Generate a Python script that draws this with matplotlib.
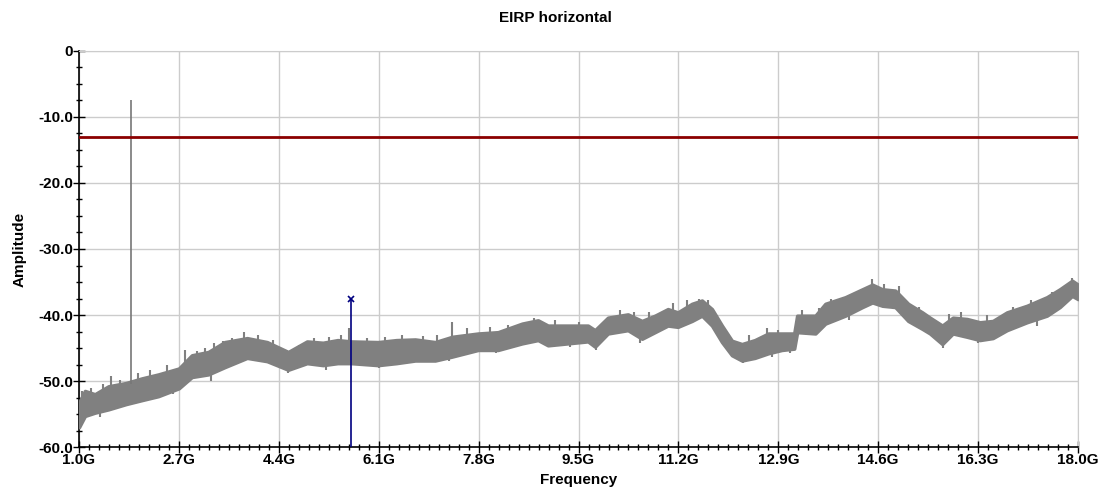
import numpy as np
import matplotlib
matplotlib.use("Agg")
import matplotlib.pyplot as plt
from matplotlib.ticker import FixedLocator, FuncFormatter, MultipleLocator

plt.rcParams['font.family'] = ['Liberation Sans', 'DejaVu Sans']

# trace envelope (GHz, dB)
freq = [1.0, 1.1, 1.27, 1.5, 1.8, 2.07, 2.35, 2.7, 2.92, 3.2, 3.48, 3.86, 4.2, 4.56,
        4.88, 5.15, 5.4, 5.63, 6.09, 6.4, 6.72, 7.06, 7.35, 7.79, 8.13, 8.54, 8.81,
        8.98, 9.32, 9.66, 9.78, 10.0, 10.34, 10.58, 10.8, 11.02, 11.19, 11.43, 11.6,
        11.77, 11.94, 12.11, 12.28, 12.5, 12.73, 12.96, 13.17, 13.22, 13.53, 13.7,
        14.04, 14.33, 14.5, 14.67, 14.89, 15.11, 15.35, 15.48, 15.69, 15.87, 16.11,
        16.33, 16.55, 16.79, 17.13, 17.47, 17.69, 17.9, 18.0]
lower = [-57.0, -55.3, -54.8, -54.3, -53.5, -52.9, -52.3, -51.1, -49.4, -49.0, -47.9,
         -46.5, -47.0, -48.3, -47.3, -47.6, -47.3, -47.3, -47.6, -47.3, -46.9, -46.9,
         -46.3, -45.3, -45.3, -44.3, -43.8, -44.6, -44.3, -44.0, -44.8, -42.8, -42.3,
         -43.6, -42.6, -41.6, -41.8, -40.9, -40.1, -41.6, -44.1, -46.1, -46.9, -46.5,
         -45.8, -45.3, -45.1, -42.6, -42.8, -41.3, -40.1, -38.8, -38.1, -38.6, -38.8,
         -40.9, -42.1, -42.8, -44.4, -42.8, -43.3, -43.8, -43.5, -42.3, -41.1, -40.1,
         -38.8, -37.1, -37.6]
upper = [-53.3, -51.5, -52.0, -50.8, -50.3, -49.6, -49.0, -48.1, -46.1, -45.6, -44.1,
         -43.5, -44.1, -45.6, -44.0, -44.2, -43.8, -44.0, -44.1, -43.8, -43.7, -44.1,
         -43.3, -42.8, -42.6, -41.3, -40.8, -41.6, -41.6, -41.6, -42.3, -40.4, -39.9,
         -40.9, -40.1, -39.1, -39.6, -38.3, -37.8, -39.1, -41.6, -43.9, -44.4, -43.8,
         -42.8, -42.8, -42.8, -40.1, -40.1, -38.3, -37.3, -36.1, -35.4, -36.1, -36.3,
         -38.3, -39.6, -40.4, -41.6, -40.4, -40.6, -41.1, -40.9, -39.6, -38.6, -37.3,
         -36.1, -34.8, -35.4]

# noise spikes poking out of the band (GHz, tip dB)
spike_up_f = [1.05, 1.2, 1.4, 1.55, 1.7, 2.0, 2.2, 2.5, 2.8, 3.0, 3.15, 3.3, 3.45, 3.6,
              3.8, 4.05, 4.3, 4.75, 5.0, 5.25, 5.45, 5.6, 5.9, 6.2, 6.5, 6.85, 7.1, 7.35,
              7.6, 8.0, 8.3, 8.75, 9.1, 9.5, 9.9, 10.2, 10.45, 10.7, 11.1, 11.35, 11.55,
              11.7, 12.4, 12.7, 12.9, 13.3, 13.6, 13.8, 14.2, 14.5, 14.7, 14.95, 15.3,
              15.8, 16.0, 16.45, 16.9, 17.2, 17.55, 17.9]
spike_up_top = [-51.5, -51.0, -50.5, -49.3, -49.8, -48.8, -48.3, -47.5, -45.3, -45.5,
                -45.0, -44.2, -44.0, -43.5, -42.5, -43.0, -43.8, -44.6, -43.5, -43.3,
                -43.0, -42.0, -43.5, -43.3, -43.0, -43.2, -43.0, -41.0, -42.0, -41.8,
                -41.5, -40.4, -40.8, -41.0, -41.5, -39.3, -39.5, -39.5, -38.2, -37.8,
                -37.5, -37.8, -43.0, -42.0, -42.2, -39.3, -39.0, -37.6, -36.6, -34.6,
                -35.3, -35.6, -38.8, -39.8, -39.6, -40.0, -38.8, -37.8, -36.5, -34.4]
spike_dn_f = [1.35, 2.6, 3.25, 4.55, 5.2, 6.1, 7.3, 8.1, 9.35, 9.8, 10.55, 12.3, 12.8,
              13.1, 14.1, 15.7, 16.3, 17.3]
spike_dn_bot = [-55.5, -52.0, -50.0, -48.8, -48.3, -48.0, -47.0, -45.8, -44.8, -45.3,
                -44.2, -47.3, -46.3, -45.7, -40.7, -45.0, -44.3, -41.7]

# signal peak, limit line and marker
peak_f, peak_top, peak_base = 1.88, -7.4, -50.5
limit = -13.0
marker_f, marker_val = 5.634, -37.6

x_ticks = [1.0, 2.7, 4.4, 6.1, 7.8, 9.5, 11.2, 12.9, 14.6, 16.3, 18.0]

fig = plt.figure(figsize=(11.1, 4.98), dpi=100)
ax = fig.add_axes([0.0712, 0.1024, 0.9, 0.7952])

band_lo = np.interp(spike_up_f, freq, lower)
band_hi = np.interp(spike_dn_f, freq, upper)
ax.fill_between(freq, lower, upper, color='#808080', lw=2.5, edgecolor='#808080',
                joinstyle='round', zorder=3)
ax.vlines(spike_up_f, band_lo, spike_up_top, color='#808080', lw=1.5, zorder=3)
ax.vlines(spike_dn_f, spike_dn_bot, band_hi, color='#808080', lw=1.5, zorder=3)
ax.vlines(peak_f, peak_base, peak_top, color='#777777', lw=1.2, zorder=3)
ax.axhline(limit, color='#8b0000', lw=2, zorder=4)
ax.vlines(marker_f, -60, marker_val, color='#000080', lw=1.2, zorder=5)
ax.plot([marker_f], [marker_val], marker='x', color='#000080', ms=5, mew=1.2, zorder=6)

ax.set_xlim(1.0, 18.0)
ax.set_ylim(-60, 0)
ax.xaxis.set_major_locator(FixedLocator(x_ticks))
ax.xaxis.set_minor_locator(FixedLocator([1.0 + 0.17 * k for k in range(101)]))
ax.yaxis.set_major_locator(MultipleLocator(10))
ax.yaxis.set_minor_locator(MultipleLocator(2.5))
ax.xaxis.set_major_formatter(FuncFormatter(lambda v, p: f"{v:.1f}G"))
ax.yaxis.set_major_formatter(FuncFormatter(lambda v, p: "0" if abs(v) < 1e-9 else f"{v:.1f}"))

ax.tick_params(which='major', direction='inout', length=9, width=1, color='black',
               labelsize=11, pad=0)
ax.tick_params(which='minor', direction='inout', length=5, width=1, color='black')
for lab in ax.get_xticklabels() + ax.get_yticklabels():
    lab.set_fontweight('bold')

ax.grid(True, which='major', color='#cccccc', lw=1)
ax.set_axisbelow(True)
for s in ['top', 'right']:
    ax.spines[s].set_color('#cccccc')
for s in ['left', 'bottom']:
    ax.spines[s].set_color('black')
    ax.spines[s].set_linewidth(1.2)

ax.set_xlabel('Frequency', fontsize=11, fontweight='bold', labelpad=4)
ax.set_ylabel('Amplitude', fontsize=11, fontweight='bold', labelpad=8)
fig.text(0.5, 0.963, 'EIRP horizontal', ha='center', va='center', fontsize=11, fontweight='bold')

fig.savefig('out.png', dpi=100)
